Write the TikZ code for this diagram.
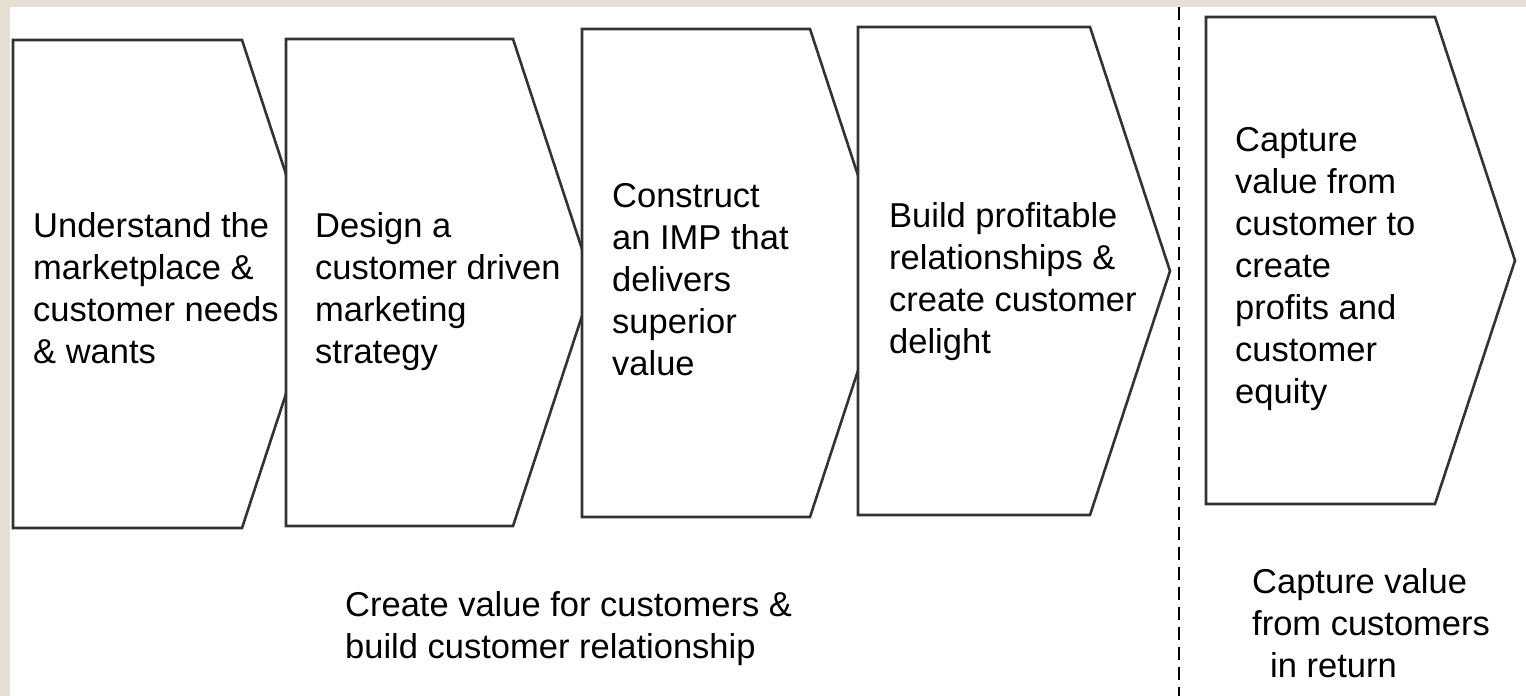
\documentclass[tikz,border=0pt]{standalone}
\usepackage{fontspec}
\setmainfont{Liberation Sans}
\begin{document}
\begin{tikzpicture}[x=1pt,y=-1pt,
  stage/.style={draw=black!80,line width=2.6pt,fill=white,line join=miter},
  label/.style={anchor=base west,inner sep=0pt,align=left,text=black,
    font=\fontsize{34.5}{42}\selectfont},
  divider/.style={draw=black,line width=2.4pt,dash pattern=on 13pt off 7pt}]
\definecolor{framebeige}{RGB}{229,223,212}
\useasboundingbox (0,0) rectangle (1526,696);
% frame strips along the top and left edges
\fill[framebeige] (0,0) rectangle (1526,7);
\fill[framebeige] (0,0) rectangle (10,696);
\fill[white] (10,7) rectangle (1526,696);

% chevron stages, each drawn over the tip of the previous one
\draw[stage] (13,40) -- (242,40) -- (322,284) -- (242,528) -- (13,528) -- cycle;
\draw[stage] (286,39) -- (513,39) -- (593,282.5) -- (513,526) -- (286,526) -- cycle;
\draw[stage] (582,29) -- (810,29) -- (890,273) -- (810,517) -- (582,517) -- cycle;
\draw[stage] (858,27) -- (1090,27) -- (1170,271) -- (1090,515) -- (858,515) -- cycle;
\draw[stage] (1206,17) -- (1435,17) -- (1515,260.5) -- (1435,504) -- (1206,504) -- cycle;

% dashed separator between the two phases
\coordinate (sepTop) at (1179,7);
\coordinate (sepBot) at (1179,696);
\draw[divider] (sepTop) -- (sepBot);

% stage texts (placed at the baseline of their last line)
\node[label] (t1) at (33,363) {Understand the\\marketplace \&\\customer needs\\\& wants};
\node[label] (t2) at (315,363) {Design a\\customer driven\\marketing\\strategy};
\node[label] (t3) at (612,375) {Construct\\an IMP that\\delivers\\superior\\value};
\node[label] (t4) at (889,353) {Build profitable\\relationships \&\\create customer\\delight};
\node[label] (t5) at (1235,403) {Capture\\value from\\customer to\\create\\profits and\\customer\\equity};

% phase captions
\node[label] (p1) at (345,658) {Create value for customers \&\\build customer relationship};
\node[label] (p2) at (1252,677) {Capture value\\from customers\\\hspace*{18pt}in return};
\end{tikzpicture}
\end{document}
